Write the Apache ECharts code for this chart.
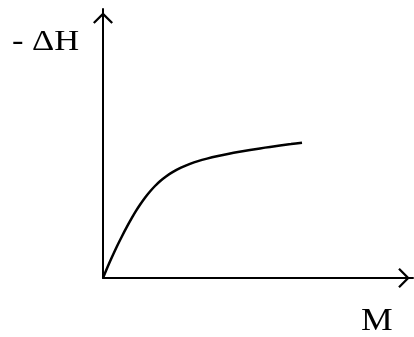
<!DOCTYPE html>
<html>
<head>
<meta charset="utf-8">
<style>
  html, body { margin: 0; padding: 0; background: #fff; }
  #chart { width: 414px; height: 337px; }
</style>
<script src="https://cdn.jsdelivr.net/npm/echarts@6/dist/echarts.min.js"></script>
</head>
<body>
<div id="chart"></div>
<script>
// Heat released (-ΔH) as a function of M: rises steeply, then levels off.
const mValues = [0, 5, 9, 14, 19, 24, 29, 33, 37, 42, 47, 52, 57, 63, 70, 78, 87, 95,
  104, 115, 126, 135, 147, 157, 167, 177, 188, 199];
const heatValues = [0, 12, 21, 31.8, 41.8, 51.3, 60.3, 67.1, 73.3, 80.3, 86.5, 92, 96.8,
  101.6, 106.1, 110.3, 114.1, 116.9, 119.4, 122, 124.3, 126, 128, 129.6, 131.1,
  132.5, 133.9, 135.3];
const yAxisLabel = '- ΔH';
const xAxisLabel = 'M';

// Open chevron arrow head, pointing up (the axis rotates it)
const chevron = 'path://M0,10 L10,0 L20,10 L18.4,11.6 L10,3.2 L1.6,11.6 Z';

const chart = echarts.init(document.getElementById('chart'), null, { renderer: 'canvas' });

const axisCommon = {
  type: 'value',
  min: 0,
  axisLine: {
    show: true,
    symbol: ['none', chevron],
    symbolSize: [20, 18],
    symbolOffset: [0, -9],
    lineStyle: { color: '#000', width: 2 }
  },
  axisTick: { show: false },
  axisLabel: { show: false },
  splitLine: { show: false }
};

const labelFont = 'Liberation Serif, Times New Roman, serif';

chart.setOption({
  backgroundColor: '#fff',
  animation: false,
  graphic: [
    {
      type: 'text',
      x: 12,
      y: 42,
      scaleX: 1.15,
      style: {
        text: yAxisLabel,
        fontFamily: labelFont,
        fontSize: 30,
        fill: '#000',
        align: 'left',
        verticalAlign: 'middle'
      }
    },
    {
      type: 'text',
      x: 361,
      y: 322,
      scaleX: 1.15,
      style: {
        text: xAxisLabel,
        fontFamily: labelFont,
        fontSize: 31,
        fill: '#000',
        align: 'left',
        verticalAlign: 'middle'
      }
    }
  ],
  grid: { left: 103, top: 9, right: 1, bottom: 59 },
  xAxis: Object.assign({}, axisCommon, { max: 310 }),
  yAxis: Object.assign({}, axisCommon, { max: 269 }),
  series: [{
    type: 'line',
    data: mValues.map((m, i) => [m, heatValues[i]]),
    smooth: 0.3,
    showSymbol: false,
    lineStyle: { color: '#000', width: 2.5 }
  }]
});
</script>
</body>
</html>
